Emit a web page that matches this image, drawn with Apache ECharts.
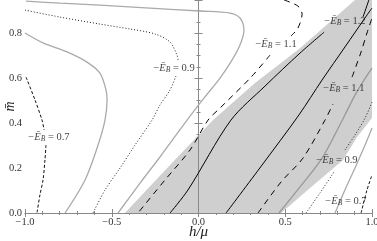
<!DOCTYPE html>
<html><head><meta charset="utf-8">
<script src="https://cdn.jsdelivr.net/npm/echarts@6/dist/echarts.min.js"></script>
<style>html,body{margin:0;padding:0;background:#fff}#c{width:377px;height:241px}</style>
</head><body><div id="c"></div>
<script>
// axis ranges / ticks
const xRange = [-1, 1];
const yRange = [0, 0.947];
const xInterval = 0.5;
const yInterval = 0.2;

// shaded band
const shadeRegion = [[-0.424,0],[-0.164,0.213],[0.084,0.413],[0.326,0.578],[0.585,0.733],[0.902,0.947],[1,0.947],[1,0.422],[0.914,0.338],[0.833,0.236],[0.643,0.111],[0.476,0]];

// gray contours (-E_B = 1.0 / 0.8)
const grayA = [[-0.994,0.942],[-0.798,0.933],[-0.568,0.924],[-0.280,0.911],[0.009,0.898],[0.182,0.889],[0.239,0.867],[0.262,0.813],[0.239,0.747],[0.193,0.680],[0.124,0.600],[0.037,0.516],[-0.066,0.413],[-0.222,0.249],[-0.337,0.133],[-0.464,0]];
const grayC = [[-1,0.800],[-0.896,0.756],[-0.758,0.716],[-0.643,0.671],[-0.568,0.622],[-0.533,0.547],[-0.527,0.502],[-0.539,0.413],[-0.579,0.302],[-0.654,0.147],[-0.769,0]];
const grayG = [[0.464,0],[0.585,0.116],[0.712,0.244],[0.844,0.436],[0.902,0.524],[0.954,0.591],[1.0,0.644]];
const grayR = [[0.787,0],[0.844,0.102],[0.902,0.2],[0.960,0.302],[1.0,0.378]];

// dotted contours (-E_B = 0.9)
const dotL1 = [[-1,0.902],[-0.798,0.871],[-0.568,0.840],[-0.395,0.818],[-0.251,0.796],[-0.164,0.760],[-0.124,0.702],[-0.118,0.680]];
const dotL2 = [[-0.130,0.609],[-0.164,0.547],[-0.222,0.480],[-0.268,0.413],[-0.366,0.302],[-0.452,0.200],[-0.539,0.102],[-0.608,0]];
const dotR1 = [[0.620,0],[0.700,0.089],[0.781,0.182]];
const dotR2 = [[0.844,0.280],[0.902,0.347],[0.960,0.422],[1.0,0.493]];

// fine dashed contours (-E_B = 0.7)
const fineL1 = [[-0.994,0.604],[-0.942,0.502],[-0.902,0.413],[-0.890,0.369]];
const fineL2 = [[-0.879,0.302],[-0.885,0.236],[-0.896,0.147],[-0.914,0.080],[-0.931,0]];
const fineR = [[0.937,0],[0.971,0.102],[1.0,0.169]];

// dashed contours (-E_B = 1.1)
const dashE1 = [[0.493,0.947],[0.573,0.920],[0.597,0.884],[0.573,0.822],[0.533,0.787]];
const dashE2 = [[0.412,0.702],[0.303,0.604],[0.130,0.471],[0.055,0.413],[-0.049,0.280],[-0.193,0.147],[-0.349,0]];
const dashD1 = [[0.343,0],[0.476,0.138],[0.602,0.244],[0.729,0.413],[0.775,0.484]];
const dashD2 = [[0.885,0.604],[0.937,0.716],[0.971,0.800],[1.0,0.867]];

// solid black contours (-E_B = 1.2)
const solidS1a = [[-0.164,0],[-0.061,0.102],[0.187,0.413],[0.383,0.564],[0.585,0.711],[0.724,0.804]];
const solidS1b = [[0.948,0.871],[0.982,0.947]];
const solidS2 = [[0.159,0],[0.366,0.213],[0.579,0.436],[0.712,0.591],[0.844,0.738],[0.971,0.880],[1.0,0.911]];

// x = 0 reference line
const zeroLine = [[0,0],[0,0.947]];

// contour labels
const labelPts = [
  {value:[-0.141,0.644], name:'0.9'},
  {value:[-0.862,0.338], name:'0.7'},
  {value:[0.447,0.751], name:'1.1'},
  {value:[0.844,0.853], name:'1.2'},
  {value:[0.838,0.556], name:'1.1'},
  {value:[0.798,0.236], name:'0.9'},
  {value:[0.850,0.053], name:'0.7'}
];

const SERIF = "'Liberation Serif','Times New Roman',serif";
const chart = echarts.init(document.getElementById('c'), null, {renderer:'canvas'});

function ln(data, color, width, type, z) {
  return {type:'line', data, symbol:'none', smooth:0.3, silent:true, clip:true, z:z||3,
    lineStyle:{color, width, type: type||'solid'}};
}
const fmt = v => v.toFixed(1).replace('-', '\u2212');
const baseAxis = {
  axisLine:{show:true, lineStyle:{color:'#888', width:1}},
  axisTick:{show:true, inside:true, length:4, lineStyle:{color:'#888'}},
  minorTick:{show:true, length:2, lineStyle:{color:'#888'}},
  splitLine:{show:false}
};

chart.setOption({
  animation:false,
  backgroundColor:'#fff',
  grid:{left:25, right:5, top:0, bottom:28, containLabel:false, outerBoundsMode:'none'},
  xAxis:[
    Object.assign({}, baseAxis, {type:'value', min:xRange[0], max:xRange[1], interval:xInterval, position:'bottom',
      minorTick:{show:true, splitNumber:5, length:2, lineStyle:{color:'#888'}},
      axisLabel:{formatter:fmt, fontFamily:SERIF, fontSize:10.5, color:'#333', margin:4},
      name:'h/\u03bc', nameLocation:'middle', nameGap:12, nameMoveOverlap:false,
      nameTextStyle:{fontFamily:SERIF, fontStyle:'italic', fontSize:15, color:'#222'}}),
    Object.assign({}, baseAxis, {type:'value', min:xRange[0], max:xRange[1], interval:xInterval, position:'top',
      minorTick:{show:true, splitNumber:5, length:2, lineStyle:{color:'#888'}},
      axisLabel:{show:false}})
  ],
  yAxis:[
    Object.assign({}, baseAxis, {type:'value', min:yRange[0], max:yRange[1], interval:yInterval, position:'left',
      minorTick:{show:true, splitNumber:4, length:2, lineStyle:{color:'#888'}},
      axisLabel:{formatter:fmt, fontFamily:SERIF, fontSize:10.5, color:'#333', margin:3, showMaxLabel:false},
      name:'m\u0304', nameLocation:'middle', nameGap:8, nameRotate:90, nameMoveOverlap:false,
      nameTextStyle:{fontFamily:SERIF, fontStyle:'italic', fontSize:14, color:'#222'}}),
    Object.assign({}, baseAxis, {type:'value', min:yRange[0], max:yRange[1], interval:yInterval, position:'right',
      minorTick:{show:true, splitNumber:4, length:2, lineStyle:{color:'#888'}},
      axisLabel:{show:false}})
  ],
  series:[
    {type:'custom', silent:true, clip:true, z:1, data: shadeRegion,
      encode:{x:0, y:1},
      renderItem:(params, api) => {
        if (params.dataIndex !== 0) return null;
        const pts = shadeRegion.map(p => api.coord(p));
        return {type:'polygon', shape:{points:pts}, style:{fill:'#cfcfcf'}};
      }},
    Object.assign(ln(zeroLine, '#8a8a8a', 1, 'solid', 2), {smooth:false}),
    ln(grayA, '#aaaaaa', 1.3), ln(grayC, '#aaaaaa', 1.3), ln(grayG, '#999999', 1.3), ln(grayR, '#aaaaaa', 1.3),
    ln(dotL1, '#222', 1, [1,2]), ln(dotL2, '#222', 1, [1,2]), ln(dotR1, '#222', 1, [1,2]), ln(dotR2, '#222', 1, [1,2]),
    ln(fineL1, '#111', 1, [3,2]), ln(fineL2, '#111', 1, [3,2]), ln(fineR, '#111', 1, [3,2]),
    ln(dashE1, '#000', 1, [6,5]), ln(dashE2, '#000', 1, [6,5]), ln(dashD1, '#000', 1, [6,5]), ln(dashD2, '#000', 1, [6,5]),
    ln(solidS1a, '#000', 1), ln(solidS1b, '#000', 1), ln(solidS2, '#000', 1),
    {type:'scatter', data: labelPts, symbolSize:0, silent:true, z:10,
      label:{show:true, position:'inside',
        formatter: p => '{a|\u2212}{e|\u0112}{b|B}{a| = ' + p.name + '}',
        rich:{
          a:{fontFamily:SERIF, fontSize:10.5, color:'#111', lineHeight:12, verticalAlign:'middle'},
          e:{fontFamily:SERIF, fontStyle:'italic', fontSize:10.5, color:'#111', lineHeight:12, verticalAlign:'middle'},
          b:{fontFamily:SERIF, fontStyle:'italic', fontSize:7.5, color:'#111', lineHeight:12, verticalAlign:'bottom', padding:[4,0,0,0]}
        }}}
  ]
});
</script></body></html>
